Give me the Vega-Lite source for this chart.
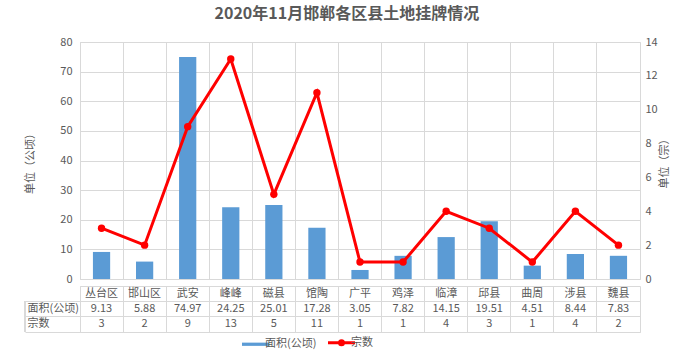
{
  "$schema": "https://vega.github.io/schema/vega-lite/v6.json",
  "padding": {"left": 24, "right": 12, "top": 5, "bottom": 0},
  "background": "white",
  "title": {"text": "2020年11月邯郸各区县土地挂牌情况", "fontSize": 16, "font": "Noto Sans CJK SC", "fontWeight": "bold", "color": "#595959", "anchor": "middle", "offset": 14},
  "config": {
    "font": "Noto Sans CJK SC",
    "axis": {"labelColor": "#595959", "labelFontSize": 11, "titleColor": "#595959", "titleFontSize": 11, "titleFontWeight": "normal", "gridColor": "#d9d9d9", "domainColor": "#d9d9d9", "tickColor": "#d9d9d9"},
    "legend": {"labelColor": "#595959", "labelFontSize": 11}
  },
  "data": {"values": [
    {"region": "丛台区", "area": 9.13, "count": 3},
    {"region": "邯山区", "area": 5.88, "count": 2},
    {"region": "武安", "area": 74.97, "count": 9},
    {"region": "峰峰", "area": 24.25, "count": 13},
    {"region": "磁县", "area": 25.01, "count": 5},
    {"region": "馆陶", "area": 17.28, "count": 11},
    {"region": "广平", "area": 3.05, "count": 1},
    {"region": "鸡泽", "area": 7.82, "count": 1},
    {"region": "临漳", "area": 14.15, "count": 4},
    {"region": "邱县", "area": 19.51, "count": 3},
    {"region": "曲周", "area": 4.51, "count": 1},
    {"region": "涉县", "area": 8.44, "count": 4},
    {"region": "魏县", "area": 7.83, "count": 2}
  ]},
  "spacing": 0,
  "vconcat": [
    {
      "width": 560,
      "height": 237,
      "view": {"stroke": "#d9d9d9"},
      "encoding": {
        "x": {"field": "region", "type": "nominal", "sort": null,
          "scale": {"paddingInner": 0, "paddingOuter": 0},
          "axis": {"title": null, "labels": false, "ticks": false, "domain": false, "grid": true, "bandPosition": 0}}
      },
      "layer": [
        {
          "mark": {"type": "bar", "width": {"band": 0.4}},
          "encoding": {
            "y": {"field": "area", "type": "quantitative", "scale": {"domain": [0, 80]},
              "axis": {"title": "单位（公顷）", "values": [0, 10, 20, 30, 40, 50, 60, 70, 80], "grid": true, "ticks": false, "domain": false, "labelPadding": 8, "titlePadding": 24}},
            "color": {"datum": "面积(公顷)", "type": "nominal",
              "scale": {"domain": ["面积(公顷)", "宗数"], "range": ["#5b9bd5", "#ff0000"]},
              "legend": {"title": null, "orient": "none", "direction": "horizontal", "legendX": 170, "legendY": 295, "symbolSize": 729, "columnPadding": 5, "labelOffset": 4,
                "encode": {"symbols": {"update": {
                  "shape": {"signal": "datum.value === '宗数' ? 'M-1,0H1M-0.15,0A0.15,0.15,0,1,1,0.15,0A0.15,0.15,0,1,1,-0.15,0Z' : 'M-1,-0.12H1V0.12H-1Z'"},
                  "fill": {"signal": "datum.value === '宗数' ? '#ff0000' : '#5b9bd5'"},
                  "stroke": {"signal": "datum.value === '宗数' ? '#ff0000' : '#5b9bd5'"},
                  "strokeWidth": {"signal": "datum.value === '宗数' ? 3 : 0"},
                  "opacity": {"value": 1}
                }}}}}
          }
        },
        {
          "mark": {"type": "line", "strokeWidth": 3, "point": {"filled": true, "size": 55}},
          "encoding": {
            "y": {"field": "count", "type": "quantitative", "scale": {"domain": [0, 14]},
              "axis": {"orient": "right", "title": "单位（宗）", "titleAngle": -90, "values": [0, 2, 4, 6, 8, 10, 12, 14], "grid": false, "ticks": false, "domain": false, "labelPadding": 5, "titlePadding": 12}},
            "color": {"datum": "宗数", "type": "nominal"}
          }
        }
      ],
      "resolve": {"scale": {"y": "independent"}}
    },
    {
      "width": 560,
      "height": 46,
      "view": {"stroke": "#d9d9d9"},
      "encoding": {
        "x": {"field": "region", "type": "nominal", "sort": null,
          "scale": {"paddingInner": 0, "paddingOuter": 0},
          "axis": {"title": null, "labels": false, "ticks": false, "domain": false, "grid": true, "bandPosition": 0}}
      },
      "layer": [
        {
          "mark": {"type": "text", "color": "#595959", "fontSize": 11},
          "encoding": {
            "y": {"datum": "cat", "type": "nominal",
              "scale": {"domain": ["cat", "面积(公顷)", "宗数"], "paddingInner": 0, "paddingOuter": 0},
              "axis": {"title": null, "values": ["cat", "面积(公顷)", "宗数"], "bandPosition": 1, "grid": true, "tickSize": 55, "domain": false, "labelAlign": "left", "labelPadding": -2,
                "labelExpr": "datum.value === 'cat' ? '' : datum.value"}},
            "text": {"field": "region"}
          }
        },
        {
          "mark": {"type": "text", "color": "#595959", "fontSize": 11},
          "encoding": {
            "y": {"datum": "面积(公顷)", "type": "nominal"},
            "text": {"field": "area", "format": ".2f"}
          }
        },
        {
          "mark": {"type": "text", "color": "#595959", "fontSize": 11},
          "encoding": {
            "y": {"datum": "宗数", "type": "nominal"},
            "text": {"field": "count"}
          }
        },
        {
          "mark": {"type": "rule", "color": "#d9d9d9", "xOffset": -55},
          "encoding": {
            "x": {"datum": "丛台区", "type": "nominal", "bandPosition": 0},
            "y": {"datum": "面积(公顷)", "type": "nominal", "bandPosition": 0},
            "y2": {"datum": "宗数", "bandPosition": 1}
          }
        }
      ]
    }
  ]
}
